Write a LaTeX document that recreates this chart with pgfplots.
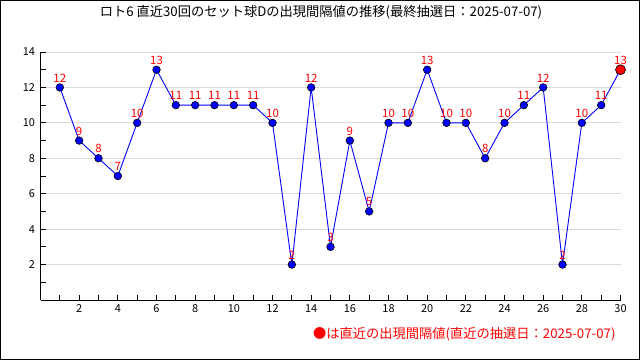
\documentclass[border=0pt]{standalone}
\usepackage{pgfplots}
\pgfplotsset{compat=1.18}
\usepackage{fontspec}
\setmainfont{Noto Sans CJK JP}
\begin{document}
\begin{tikzpicture}[x=1bp,y=1bp]
\path[use as bounding box] (0,0) rectangle (640,-360);
\draw[black, line width=1bp] (0.5,-0.5) rectangle (639.5,-359.5);
\coordinate (A) at (40.5,-300);
\node[font=\fontsize{13.3}{15}\selectfont] at (321,-12) {ロト6 直近30回のセット球Dの出現間隔値の推移(最終抽選日：2025-07-07)};
\begin{axis}[
  at={(A)}, anchor=south west,
  scale only axis, width=580bp, height=248bp,
  xmin=0, xmax=30, ymin=0, ymax=14,
  clip=false,
  axis lines=left,
  axis line style={-, line width=1bp},
  xtick={2,4,...,30}, minor xtick={1,3,...,29},
  ytick={2,4,...,14}, minor ytick={1,3,...,13},
  tick align=inside,
  major tick length=5bp, minor tick length=5bp,
  tick style={black, line width=0.8bp},
  ymajorgrids,
  grid style={black!15, line width=0.8bp},
  tick label style={font=\fontsize{11}{13}\selectfont},
  /pgf/number format/assume math mode=true,
  xticklabel style={yshift=-1bp},
  yticklabel style={xshift=-2bp},
  nodes near coords,
  every node near coord/.append style={font=\fontsize{11.5}{13}\selectfont, text=red, inner sep=0pt, yshift=5bp},
]
\addplot[blue, line width=0.9bp, mark=*, mark size=3.8bp, mark options={fill=blue, draw=black, line width=0.6bp}] coordinates {
(1,12) (2,9) (3,8) (4,7) (5,10) (6,13) (7,11) (8,11) (9,11) (10,11)
(11,11) (12,10) (13,2) (14,12) (15,3) (16,9) (17,5) (18,10) (19,10) (20,13)
(21,10) (22,10) (23,8) (24,10) (25,11) (26,12) (27,2) (28,10) (29,11) (30,13)
};
\addplot[only marks, mark=*, mark size=5bp, mark options={fill=red, draw=black, line width=0.6bp}, nodes near coords={}] coordinates {(30,13)};
\end{axis}
\node[anchor=east, text=red, font=\fontsize{13.3}{15}\selectfont] at (619,-334) {●は直近の出現間隔値(直近の抽選日：2025-07-07)};
\end{tikzpicture}
\end{document}
